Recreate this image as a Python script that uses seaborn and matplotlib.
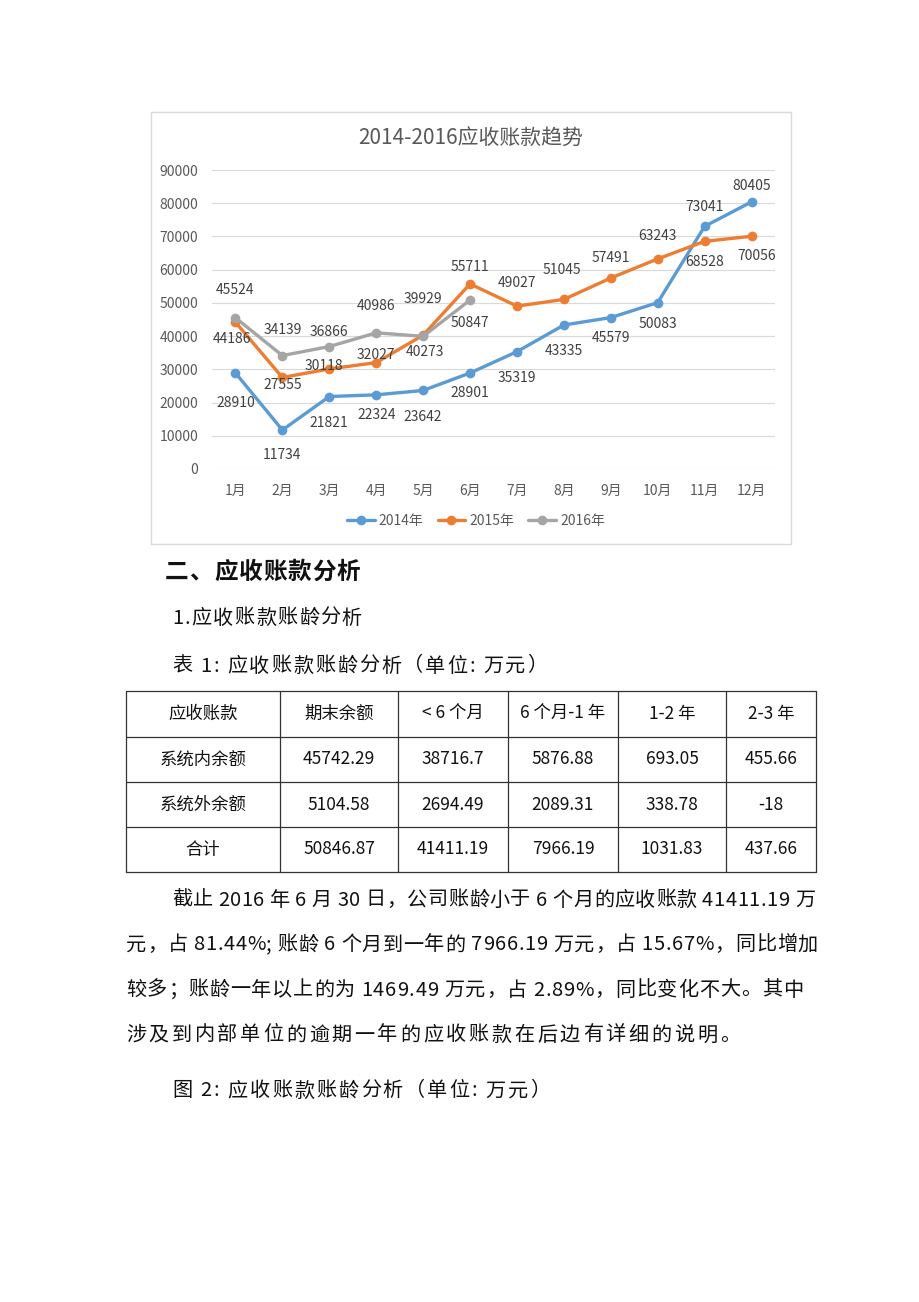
import numpy as np
import pandas as pd
import matplotlib
matplotlib.use("Agg")
import matplotlib.pyplot as plt
from matplotlib.lines import Line2D
import seaborn as sns

# chart data
months = ["1月", "2月", "3月", "4月", "5月", "6月", "7月", "8月", "9月", "10月", "11月", "12月"]
y2014 = [28910, 11734, 21821, 22324, 23642, 28901, 35319, 43335, 45579, 50083, 73041, 80405]
y2015 = [44186, 27555, 30118, 32027, 40273, 55711, 49027, 51045, 57491, 63243, 68528, 70056]
y2016 = [45524, 34139, 36866, 40986, 39929, 50847]
years = ["2014年", "2015年", "2016年"]
yticks = [0, 10000, 20000, 30000, 40000, 50000, 60000, 70000, 80000, 90000]

# table data
tbl_header = ["应收账款", "期末余额", "< 6 个月", "6 个月-1 年", "1-2 年", "2-3 年"]
tbl_rows = ["系统内余额", "系统外余额", "合计"]
tbl_vals = [["45742.29", "38716.7", "5876.88", "693.05", "455.66"],
            ["5104.58", "2694.49", "2089.31", "338.78", "-18"],
            ["50846.87", "41411.19", "7966.19", "1031.83", "437.66"]]

para = ["截止 2016 年 6 月 30 日，公司账龄小于 6 个月的应收账款 41411.19 万",
        "元，占 81.44%; 账龄 6 个月到一年的 7966.19 万元，占 15.67%，同比增加",
        "较多；账龄一年以上的为 1469.49 万元，占 2.89%，同比变化不大。其中",
        "涉及到内部单位的逾期一年的应收账款在后边有详细的说明。"]

sns.set_theme(style="white")
plt.rcParams['font.family'] = ['Noto Sans CJK SC', 'DejaVu Sans']

colors = {"2014年": "#5B9BD5", "2015年": "#ED7D31", "2016年": "#A5A5A5"}

df = pd.concat([
    pd.DataFrame({"month": months[:len(v)], "value": v, "year": y})
    for y, v in zip(years, [y2014, y2015, y2016])
])

fig = plt.figure(figsize=(9.2, 13.02), dpi=100)
renderer = fig.canvas.get_renderer()

# page layer in pixel coordinates
page = fig.add_axes([0, 0, 1, 1])
page.set_xlim(0, 920)
page.set_ylim(1302, 0)
page.axis("off")


def spread(x0, x1, y, s, size, **kw):
    # place characters one by one so the line runs from x0 to x1
    ws = []
    for ch in s:
        if ch == " ":
            ws.append(size * 0.3)
            continue
        t = page.text(0, 0, ch, fontsize=size, **kw)
        ws.append(t.get_window_extent(renderer).width)
        t.remove()
    gap = (x1 - x0 - sum(ws)) / max(len(s) - 1, 1)
    x = x0
    for ch, w in zip(s, ws):
        if ch != " ":
            page.text(x, y, ch, fontsize=size, ha="left", va="center", color="#111111", **kw)
        x += w + gap


# chart frame
page.add_patch(plt.Rectangle((151, 112), 640, 432, fill=False, ec="#D9D9D9", lw=1))

ax = fig.add_axes([212 / 920, 1 - 469 / 1302, 563 / 920, 299 / 1302])
ax.patch.set_alpha(0)
sns.lineplot(data=df, x="month", y="value", hue="year", palette=colors,
             marker="o", markersize=7, markeredgewidth=0, linewidth=2.4,
             sort=False, legend=False, ax=ax)
ax.set_xlim(-0.5, 11.5)
ax.set_ylim(0, 90000)
ax.set_yticks(yticks)
ax.set_yticklabels([str(t) for t in yticks])
ax.grid(axis="y", color="#D9D9D9", lw=0.8)
ax.grid(axis="x", visible=False)
for s in ax.spines.values():
    s.set_visible(False)
ax.tick_params(axis="both", length=0, labelsize=10, colors="#595959")
ax.tick_params(axis="y", pad=10)
ax.tick_params(axis="x", pad=11)
ax.set_xlabel("")
ax.set_ylabel("")

# label offsets in pixels (dx, dy downward)
offs = {
    "2014年": [(0, 30), (0, 25), (0, 26), (0, 20), (0, 27), (0, 20), (0, 26), (0, 26),
              (0, 20), (0, 21), (0, -19), (0, -16)],
    "2015年": [(-3, 17), (0, 8), (-5, -3), (0, -8), (2, 17), (0, -17), (0, -23), (-2, -29),
              (0, -20), (0, -23), (0, 21), (5, 20)],
    "2016年": [(0, -28), (0, -26), (0, -15), (0, -27), (0, -37), (0, 23)],
}
for y, vals in zip(years, [y2014, y2015, y2016]):
    for i, v in enumerate(vals):
        dx, dy = offs[y][i]
        ax.annotate(str(v), (i, v), xytext=(dx, -dy), textcoords="offset pixels",
                    ha="center", va="center", fontsize=10, color="#404040")

fig.text(471 / 920, 1 - 139 / 1302, "2014-2016应收账款趋势", ha="center", va="center",
         fontsize=15, color="#595959")

handles = [Line2D([0], [0], color=colors[y], marker="o", markersize=7, lw=2.4,
                  markeredgewidth=0) for y in years]
fig.legend(handles, years, loc="center", bbox_to_anchor=(476 / 920, 1 - 521 / 1302),
           ncol=3, frameon=False, fontsize=10, labelcolor="#595959",
           handlelength=2.0, columnspacing=1.0, handletextpad=0.3)

# document text
spread(165, 360, 572, "二、应收账款分析", 17, fontweight="bold")
spread(172, 362, 618, "1.应收账款账龄分析", 14.5)
spread(172, 547, 666, "表 1: 应收账款账龄分析（单位: 万元）", 14.5)

# table
col_x = [126, 280, 398, 508, 618, 726, 816]
row_y = [691, 737, 782, 827, 872]
for x in col_x:
    page.plot([x, x], [row_y[0], row_y[-1]], color="#333333", lw=0.9)
for yy in row_y:
    page.plot([col_x[0], col_x[-1]], [yy, yy], color="#333333", lw=0.9)
cells = [tbl_header] + [[r] + v for r, v in zip(tbl_rows, tbl_vals)]
for ri, row in enumerate(cells):
    cy = (row_y[ri] + row_y[ri + 1]) / 2
    for ci, txt in enumerate(row):
        cx = (col_x[ci] + col_x[ci + 1]) / 2
        page.text(cx, cy, txt, fontsize=12.5, ha="center", va="center", color="#111111")

# paragraph, justified like the page
line_y = [900, 945, 990, 1035]
line_x0 = [172, 126, 126, 126]
line_x1 = [815, 818, 803, 740]
for x0, x1, ly, txt in zip(line_x0, line_x1, line_y, para):
    spread(x0, x1, ly, txt, 14.5)

spread(172, 550, 1091, "图 2: 应收账款账龄分析（单位: 万元）", 14.5)

fig.savefig("out.png", dpi=100)
